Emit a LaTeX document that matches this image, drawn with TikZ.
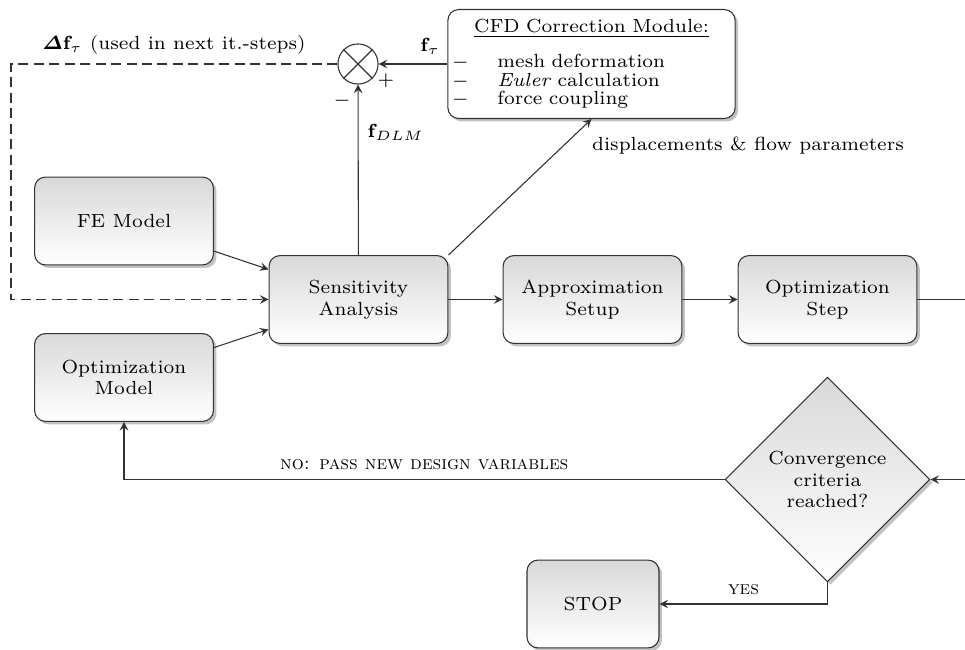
\documentclass[tikz,border=0pt]{standalone}
\usepackage{amsmath}
\usepackage{tikz}
\usetikzlibrary{shapes.geometric,shadows,arrows}
\definecolor{linegray}{rgb}{0.2,0.2,0.2}

\begin{document}
\begin{tikzpicture}[x=0.369pt, y=-0.369pt, font=\scriptsize,
	shade/.style = {drop shadow={shadow xshift=1.1pt, shadow yshift=-1.1pt, fill=black!40, opacity=0.6}},
	block/.style = {shape=rectangle, draw=linegray, rounded corners=4pt, align=center, top color=black!15, bottom color=white, shade, minimum width=66pt, minimum height=32.4pt},
	decision/.style = {shape=diamond, draw=linegray, align=center, top color=black!15, bottom color=white, shade, minimum width=75.6pt, minimum height=75.6pt, inner sep=0pt, shape aspect=1},
	module/.style = {shape=rectangle, draw=linegray, rounded corners=4pt, fill=white, shade, text width=103pt, minimum height=40.2pt, inner sep=1.5pt},
	junction/.style = {shape=circle, draw=linegray, minimum size=14.8pt, inner sep=0pt},
	flow/.style = {draw=linegray, -stealth}]
	\useasboundingbox (0,0) rectangle (965,649);
	\node[block] (fe) at (124,221) {FE Model};
	\node[block] (optmodel) at (124,377.5) {Optimization\\Model};
	\node[block] (sens) at (358.5,299.5) {Sensitivity\\Analysis};
	\node[block] (approx) at (592.5,299.5) {Approximation\\Setup};
	\node[block] (optstep) at (827.5,299.5) {Optimization\\Step};
	\node[decision] (conv) at (827.5,479.5) {Convergence\\criteria\\reached?};
	\node[block, minimum width=48.7pt] (stop) at (593,604) {STOP};
	\node[module] (cfd) at (591.5,64) {{\centering\underline{CFD Correction Module:}\par}\vspace{5pt}
		{\raggedright $-$\hspace{10.5pt}mesh deformation\\[-1.2pt]
		$-$\hspace{10.5pt}\textit{Euler} calculation\\[-1.2pt]
		$-$\hspace{10.5pt}force coupling\par}};
	\node[junction] (sum) at (358,64) {};
	\draw[linegray] (sum.north west) -- (sum.south east) (sum.north east) -- (sum.south west);
	\node (plus) at (386,81) {$+$};
	\node (minus) at (342,101) {$-$};
	\node (dlabel) at (174,45) {$\boldsymbol{\varDelta}\mathbf{f}_\tau$ (used in next it.-steps)};
	\node (displabel) at (748,146) {displacements \& flow parameters};
	\coordinate (fb) at (11,64);
	\coordinate (out) at (965,299.5);
	\coordinate (in) at (965,479.5);
	\draw[flow] (fe) -- (sens);
	\draw[flow] (optmodel) -- (sens);
	\draw[flow] (sens) -- (approx);
	\draw[flow] (approx) -- (optstep);
	\draw[linegray] (optstep) -- (out);
	\draw[flow] (in) -- (conv);
	\draw[flow] (conv) -| node[pos=0.25, above]{\textsc{no: pass new design variables}} (optmodel);
	\draw[flow] (conv) |- node[pos=0.75, above]{\textsc{yes}} (stop);
	\draw[flow] (sens) -- node[pos=0.72, right]{$\mathbf{f}_{DLM}$} (sum);
	\draw[flow] (cfd) -- node[pos=0.25, above]{$\mathbf{f}_\tau$} (sum);
	\draw[flow] (sens.north east) -- (cfd.south);
	\draw[flow, dash pattern=on 3.7pt off 2pt] (sum) -- (fb) |- (sens);
\end{tikzpicture}
\end{document}
